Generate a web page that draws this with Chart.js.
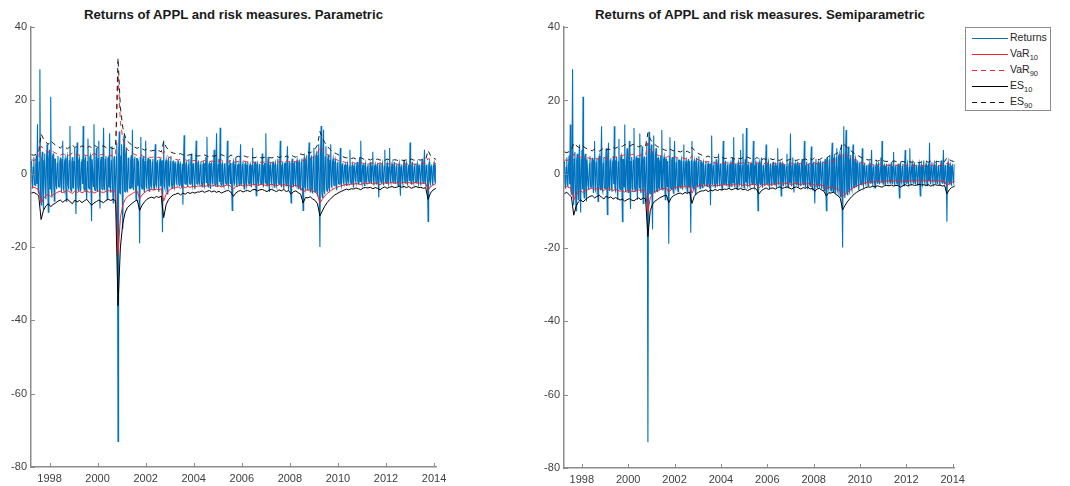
<!DOCTYPE html>
<html>
<head>
<meta charset="utf-8" />
<script src="https://cdn.jsdelivr.net/npm/chart.js@4.4.1/dist/chart.umd.min.js"></script>
<style>
  body { margin:0; background:#fff; width:1070px; height:486px; overflow:hidden; position:relative; font-family:"Liberation Sans", Arial, sans-serif; }
  canvas { position:absolute; top:0; }
  .title { position:absolute; top:7px; font-weight:bold; font-size:13.2px; color:#1a1a1a; text-align:center; white-space:nowrap; }
  #legend { position:absolute; left:965px; top:27px; width:84px; height:82px; border:1px solid #8c8c8c; background:#fff; }
  .row { position:absolute; left:6px; height:16px; font-size:10.5px; color:#262626; }
  .row svg { position:absolute; left:0; top:7px; }
  .row span { position:absolute; left:38px; top:1px; white-space:nowrap; }
  .row sub { font-size:7.5px; vertical-align:-3px; }
</style>
</head>
<body>
<div class="title" style="left:31px;width:405px">Returns of APPL and risk measures. Parametric</div>
<div class="title" style="left:564px;width:392px">Returns of APPL and risk measures. Semiparametric</div>
<canvas id="left" width="460" height="486" style="left:0"></canvas>
<canvas id="right" width="440" height="486" style="left:530px"></canvas>
<div id="legend"></div>

<script>
// AAPL returns (%), one row per year starting 1997.25, step 0.025 yr
const retStart = 1997.25, retStep = 0.025;
const returns = [
  3.5,-2.2,-4.0,1.8,4.5,-3.0,-3.2,2.5,5.0,-2.8,13.5,-4.5,-5.5,3.2,28.5,-6.0,-8.5,4.0,6.0,-4.5,-10.0,3.5,5.5,-3.8,-7.0,4.2,8.0,-3.5,-10.5,4.0,6.5,-4.2,21.0,-3.8,-6.5,4.5,5.5,-3.2,-7.5,4.0,
  4.0,-3.2,-4.2,2.8,4.8,-3.5,-3.6,3.0,4.4,-2.5,-5.2,3.8,9.0,-4.0,-4.6,3.2,4.1,-3.6,-7.5,4.2,4.9,-3.0,-4.3,3.5,13.0,-4.2,-4.8,2.9,4.5,-3.8,-3.9,3.3,7.0,-3.1,-11.0,4.5,8.5,-3.4,-4.6,3.6,
  4.3,-3.4,-4.8,3.1,3.9,-2.8,13.0,-3.9,-4.5,3.6,4.7,-4.1,-7.0,3.3,9.5,-3.7,-4.2,4.4,5.0,-3.2,-13.0,3.9,3.9,-3.5,13.5,-4.3,-4.6,3.0,7.0,-3.8,-5.0,4.1,9.0,-3.6,-9.5,3.4,4.6,-4.0,-4.4,3.7,
  12.5,-3.6,-4.6,3.9,4.8,-3.3,-7.0,4.2,4.4,-3.8,11.0,-4.0,-5.2,3.5,7.5,-4.4,-8.0,3.8,4.8,-3.1,-7.5,4.5,8.5,-4.6,-73.0,5.0,11.5,-5.2,-5.4,4.8,8.0,-5.5,-15.0,6.0,10.5,-4.8,-5.0,5.2,7.0,-4.5,
  -4.8,4.2,4.4,-3.8,-4.1,3.5,5.0,-4.0,12.0,-3.6,-4.5,3.9,4.7,-3.2,-7.0,4.1,4.1,-3.4,3.5,-3.0,-19.0,4.4,10.0,-3.5,-4.2,3.7,4.6,-3.9,-5.2,3.3,9.0,-3.6,-4.0,3.1,4.3,-3.4,-4.8,3.8,3.8,-3.2,
  -3.8,3.2,4.0,-3.0,-4.3,3.4,8.0,-2.9,-3.4,3.1,3.7,-3.3,-5.0,2.8,4.1,-3.5,3.6,-2.7,-16.0,3.6,9.0,-3.2,-4.0,3.0,3.7,-3.4,-5.5,2.9,4.4,-3.1,-3.4,3.3,4.8,-2.8,-4.0,3.2,3.4,-3.0,-3.7,2.7,
  3.3,-2.6,-3.0,2.4,3.6,-2.8,-3.3,2.5,2.9,-2.3,-3.7,2.7,-8.5,2.9,10.5,-2.6,-2.9,2.2,3.3,-2.7,-3.6,2.4,4.0,-2.5,-2.9,2.8,5.5,-2.4,-3.3,2.6,2.9,-2.9,-4.2,2.3,9.0,-2.7,-2.9,2.5,3.6,-2.4,
  -2.9,2.4,3.3,-2.6,-3.6,2.3,2.9,-2.5,-3.3,2.7,4.5,-2.4,10.0,-2.8,-3.6,2.5,2.9,-2.2,-4.2,2.6,3.3,-2.5,-2.9,2.3,6.5,-2.7,-3.3,2.4,11.0,-2.6,-3.7,2.5,4.1,-2.3,12.5,-2.8,-3.3,2.4,2.9,-2.6,
  -3.3,2.5,2.9,-2.3,-2.9,2.6,9.0,-2.4,-3.3,2.2,3.7,-2.7,2.9,-2.5,-10.0,2.6,3.3,-2.3,-2.9,2.4,4.5,-2.6,-3.7,2.2,2.6,-2.5,-3.3,2.3,8.0,-2.7,-2.9,2.4,3.3,-2.2,-4.2,2.5,2.9,-2.4,-3.3,2.3,
  3.3,-2.3,-2.9,2.1,2.6,-2.4,-3.7,2.2,7.0,-2.5,-2.9,2.3,3.3,-2.1,-6.0,2.4,2.9,-2.2,-3.3,2.5,2.6,-2.3,-2.9,2.1,5.5,-2.4,-3.7,2.2,2.9,-2.5,11.0,-2.3,-3.3,2.4,4.5,-2.2,-5.0,2.3,2.9,-2.1,
  -2.9,2.3,3.3,-2.4,-3.7,2.2,2.9,-2.5,-3.3,2.4,4.1,-2.3,-2.9,2.5,9.0,-2.6,-3.7,2.3,3.3,-2.5,-4.2,2.6,2.9,-2.4,-3.3,2.7,7.5,-2.5,-4.5,2.8,3.3,-2.6,-8.0,2.9,4.1,-2.7,-3.7,2.8,3.3,-3.0,
  -3.4,2.9,3.7,-3.1,-4.1,3.0,3.4,-3.3,-4.5,3.2,4.1,-3.4,-10.0,3.6,4.5,-3.5,-4.2,3.8,5.0,-3.7,-4.6,4.0,8.5,-3.9,-5.0,4.2,4.6,-4.1,-5.4,4.4,7.0,-4.3,-5.0,4.6,5.4,-4.5,-6.2,4.8,8.0,-5.0,
  -20.0,5.2,13.0,-5.0,-6.5,4.8,12.0,-4.6,-5.6,4.5,7.5,-4.2,-4.8,4.0,5.2,-3.8,-4.4,3.6,8.0,-3.4,-3.7,3.3,4.1,-3.1,-3.3,3.0,3.7,-2.9,-4.5,2.8,3.3,-2.7,-2.9,2.6,7.0,-2.5,-3.3,2.4,2.9,-2.3,
  -2.8,2.1,2.5,-2.0,-3.2,2.2,2.8,-1.9,-2.5,2.0,6.5,-2.1,-2.8,1.9,2.5,-2.2,-3.8,2.0,2.8,-1.8,-2.5,2.1,3.2,-2.0,-2.8,1.9,4.5,-2.1,9.0,-2.0,-2.8,2.2,2.5,-1.9,-3.2,2.0,2.8,-2.1,-2.5,1.8,
  2.8,-1.9,-2.5,2.0,3.2,-1.8,-2.8,2.1,6.0,-2.0,-3.2,1.9,2.5,-2.1,-2.8,1.8,2.8,-2.0,-6.5,2.2,3.2,-1.9,-2.5,2.0,2.8,-1.8,-3.2,2.1,6.5,-2.0,-2.5,1.9,2.8,-2.1,-2.8,1.8,7.0,-2.0,-2.5,1.9,
  2.8,-1.9,-2.5,2.0,3.2,-1.8,-2.8,2.1,2.5,-2.0,-3.2,1.9,2.8,-2.1,-6.0,1.8,2.5,-2.0,-2.8,2.2,3.7,-1.9,-2.5,2.0,2.8,-1.8,-3.2,2.1,2.5,-2.0,8.5,-1.9,-2.8,2.1,3.2,-1.8,-2.5,2.0,2.8,-1.9,
  -2.5,2.0,2.8,-1.9,-2.8,2.1,2.5,-1.8,-3.2,2.0,3.7,-2.1,-2.5,1.9,6.5,-2.0,-2.8,2.2,2.5,-1.9,-13.0,2.3,3.2,-2.0,-2.8,1.9,2.5,-2.1,-3.2,2.0,2.8,-1.8,-2.5,2.1,2.8,-1.9,-2.5,2.0,2.5,-1.8
];

// risk measures, one row per year starting 1997.25, step 0.1 yr
const riskStart = 1997.25, riskStep = 0.1;

// parametric
const pV10 = [
  -3.9,-3.7,-4.0,-4.3,-8.0,-6.8,-6.0,-5.6,-6.2,-5.7,
  -5.4,-5.0,-4.8,-5.2,-4.9,-4.6,-5.0,-5.4,-4.8,-5.1,
  -4.8,-5.2,-4.9,-4.7,-5.1,-4.8,-5.3,-5.0,-4.7,-5.0,
  -5.2,-4.8,-4.6,-4.8,-4.6,-4.8,-22.0,-12.0,-8.5,-7.0,
  -6.2,-5.8,-5.4,-5.0,-4.8,-6.8,-5.8,-5.2,-4.7,-4.4,
  -4.3,-4.5,-4.2,-4.4,-4.1,-7.5,-5.6,-4.7,-4.2,-3.9,
  -3.8,-3.6,-4.0,-3.6,-3.8,-3.5,-3.7,-3.5,-3.6,-3.4,
  -3.4,-3.2,-3.5,-3.3,-3.1,-3.4,-3.2,-3.5,-3.3,-3.6,
  -3.4,-3.2,-3.1,-3.5,-4.2,-3.6,-3.3,-3.1,-3.4,-3.2,
  -3.1,-3.3,-3.0,-2.9,-3.2,-3.0,-2.9,-3.1,-3.3,-3.0,
  -2.9,-3.1,-3.3,-3.0,-3.2,-2.9,-3.3,-3.1,-3.8,-3.3,
  -3.2,-3.5,-3.8,-5.2,-4.4,-4.5,-4.3,-4.7,-5.0,-5.6,
  -8.0,-7.0,-6.1,-5.4,-4.9,-4.4,-4.0,-3.8,-3.5,-3.3,
  -3.1,-2.9,-3.0,-2.8,-2.9,-2.7,-2.8,-3.0,-2.7,-2.6,
  -2.7,-2.5,-2.8,-2.6,-2.7,-3.0,-2.7,-2.5,-2.7,-2.5,
  -2.4,-2.6,-2.5,-2.3,-2.5,-2.4,-2.6,-2.4,-2.7,-2.5,
  -2.4,-2.6,-2.5,-2.7,-2.6,-4.5,-3.6,-3.1,-2.8,-2.6
];
const pV90 = [
  3.8,3.6,3.9,4.2,7.5,6.8,6.2,5.8,6.6,6.0,
  5.6,5.3,5.0,5.4,5.1,4.8,5.2,5.6,5.0,5.3,
  5.0,5.4,5.1,4.9,5.3,5.0,5.5,5.2,4.9,5.2,
  5.4,5.0,4.8,5.0,4.8,5.0,27.0,14.0,9.5,7.5,
  6.5,6.0,5.6,5.2,5.0,5.3,4.9,4.6,4.8,4.5,
  4.4,4.6,4.3,4.5,4.2,6.2,5.2,4.6,4.2,4.0,
  3.9,3.7,3.9,3.6,3.8,3.5,3.7,3.5,3.6,3.4,
  3.5,3.3,3.6,3.4,3.2,3.5,3.3,3.6,3.4,3.7,
  3.5,3.3,3.2,3.6,3.3,3.1,3.4,3.2,3.5,3.3,
  3.2,3.4,3.1,3.0,3.3,3.1,3.0,3.2,3.4,3.1,
  3.0,3.2,3.4,3.1,3.3,3.0,3.4,3.2,3.6,3.3,
  3.2,3.5,3.8,3.6,3.9,4.2,4.0,4.5,4.8,5.5,
  7.5,6.8,6.0,5.3,4.8,4.4,4.0,3.8,3.5,3.4,
  3.2,3.0,3.1,2.9,3.0,2.8,2.9,3.1,2.8,2.7,
  2.8,2.6,2.9,2.7,2.8,2.6,2.7,2.5,2.8,2.6,
  2.5,2.7,2.6,2.4,2.6,2.5,2.7,2.5,2.8,2.6,
  2.5,2.7,2.6,2.8,2.7,4.2,3.5,3.0,2.8,2.6
];
const pE10 = [
  -5.3,-5.1,-5.5,-6.0,-12.5,-10.0,-8.8,-8.2,-9.0,-8.4,
  -8.0,-7.5,-7.2,-7.8,-7.3,-7.0,-7.6,-8.2,-7.2,-7.7,
  -7.3,-7.9,-7.4,-7.0,-7.8,-8.6,-8.0,-7.6,-7.2,-7.6,
  -7.9,-7.3,-7.0,-7.3,-7.0,-7.4,-36.0,-20.0,-13.5,-10.5,
  -9.2,-8.6,-8.0,-7.5,-7.2,-10.0,-8.6,-7.7,-7.0,-6.6,
  -6.4,-6.7,-6.2,-6.5,-6.1,-12.0,-8.5,-7.1,-6.3,-5.8,
  -5.6,-5.3,-5.8,-5.3,-5.6,-5.1,-5.4,-5.1,-5.3,-5.0,
  -5.0,-4.7,-5.1,-4.8,-4.6,-5.0,-4.7,-5.1,-4.8,-5.3,
  -5.0,-4.7,-4.6,-5.1,-6.2,-5.3,-4.8,-4.6,-5.0,-4.7,
  -4.6,-4.9,-4.4,-4.3,-4.7,-4.4,-4.3,-4.6,-4.9,-4.4,
  -4.3,-4.6,-4.9,-4.4,-4.7,-4.3,-4.9,-4.6,-5.6,-4.9,
  -4.7,-5.2,-5.6,-8.0,-6.5,-6.6,-6.3,-6.9,-7.3,-8.2,
  -11.5,-10.2,-8.9,-7.9,-7.1,-6.5,-5.9,-5.5,-5.1,-4.8,
  -4.5,-4.2,-4.4,-4.1,-4.2,-3.9,-4.1,-4.4,-3.9,-3.8,
  -3.9,-3.7,-4.1,-3.8,-4.0,-4.4,-3.9,-3.6,-4.0,-3.7,
  -3.5,-3.8,-3.7,-3.4,-3.7,-3.5,-3.8,-3.5,-4.0,-3.7,
  -3.5,-3.8,-3.7,-4.0,-3.8,-7.0,-5.3,-4.5,-4.1,-3.8
];
const pE90 = [
  5.2,5.0,5.3,5.8,10.8,9.5,8.6,8.0,9.0,8.3,
  7.8,7.4,7.0,7.6,7.2,6.8,7.3,7.9,7.1,7.5,
  7.1,7.6,7.2,6.9,7.5,7.1,7.8,7.4,7.0,7.4,
  7.6,7.1,6.8,7.1,6.8,7.1,31.5,18.0,12.5,10.0,
  8.8,8.2,7.7,7.2,6.9,7.3,6.8,6.4,6.7,6.3,
  6.2,6.4,6.0,6.3,5.9,8.8,7.3,6.5,5.9,5.6,
  5.5,5.2,5.5,5.1,5.3,5.0,5.2,4.9,5.1,4.8,
  4.9,4.7,5.1,4.8,4.5,4.9,4.7,5.1,4.8,5.2,
  4.9,4.7,4.5,5.1,4.7,4.4,4.8,4.5,4.9,4.7,
  4.5,4.8,4.4,4.3,4.7,4.4,4.3,4.5,4.8,4.4,
  4.3,4.5,4.8,4.4,4.7,4.3,4.8,4.5,5.1,4.7,
  4.5,4.9,5.4,5.1,5.5,5.9,5.6,6.3,6.8,7.8,
  11.5,9.8,8.5,7.5,6.8,6.2,5.7,5.4,5.0,4.8,
  4.5,4.3,4.4,4.1,4.3,4.0,4.1,4.4,4.0,3.9,
  4.0,3.7,4.1,3.8,4.0,3.7,3.8,3.6,4.0,3.7,
  3.6,3.8,3.7,3.4,3.7,3.6,3.8,3.6,4.0,3.7,
  3.6,3.8,3.7,4.0,3.8,6.3,5.0,4.3,4.0,3.7
];

// semiparametric
const sV10 = [
  -3.5,-3.4,-3.7,-4.0,-7.0,-5.8,-5.0,-4.6,-5.0,-4.6,
  -4.3,-4.0,-3.9,-4.3,-4.0,-3.8,-4.2,-4.5,-4.0,-4.3,
  -4.1,-4.5,-4.2,-4.4,-4.7,-4.5,-4.9,-4.6,-4.4,-4.7,
  -4.8,-4.5,-4.3,-4.6,-4.3,-4.5,-10.5,-6.5,-5.4,-4.9,
  -4.6,-4.3,-4.1,-3.9,-3.8,-5.0,-4.3,-3.9,-3.7,-3.5,
  -3.4,-3.6,-3.3,-3.5,-3.2,-5.2,-4.0,-3.5,-3.2,-3.0,
  -3.3,-3.1,-3.4,-3.1,-3.3,-3.0,-3.2,-3.0,-3.1,-2.9,
  -3.0,-2.8,-3.1,-2.9,-2.7,-3.0,-2.8,-3.1,-2.9,-3.2,
  -3.0,-2.8,-2.7,-3.1,-3.8,-3.2,-2.9,-2.7,-3.0,-2.8,
  -2.7,-2.9,-2.6,-2.5,-2.8,-2.6,-2.5,-2.7,-2.9,-2.6,
  -2.5,-2.7,-2.9,-2.6,-2.8,-2.5,-2.9,-2.7,-3.3,-2.9,
  -2.8,-3.1,-3.3,-4.2,-3.6,-3.7,-3.5,-3.9,-4.2,-4.7,
  -6.0,-5.5,-5.0,-4.5,-4.0,-3.6,-3.3,-3.0,-2.8,-2.6,
  -2.4,-2.2,-2.3,-2.1,-2.2,-2.0,-2.1,-2.3,-2.0,-1.9,
  -1.9,-1.8,-2.0,-1.8,-1.9,-2.2,-1.9,-1.7,-1.9,-1.8,
  -1.7,-1.9,-1.8,-1.6,-1.8,-1.7,-1.9,-1.7,-2.0,-1.8,
  -1.7,-1.9,-1.8,-2.0,-1.9,-3.2,-2.6,-2.3,-2.1,-1.9
];
const sV90 = [
  3.8,3.7,3.9,4.2,5.4,5.0,4.7,4.5,4.9,4.6,
  4.4,4.2,4.1,4.4,4.2,4.0,4.3,4.6,4.2,4.4,
  4.3,4.7,4.6,4.8,5.1,5.0,5.3,5.2,5.0,5.3,
  5.4,5.1,5.0,5.2,5.0,5.1,8.4,6.8,6.0,5.6,
  5.2,5.0,4.8,4.6,4.5,4.9,4.6,4.4,4.6,4.3,
  4.2,4.4,4.1,4.3,4.0,5.0,4.5,4.1,3.8,3.6,
  3.4,3.2,3.4,3.1,3.3,3.0,3.2,3.0,3.1,2.9,
  3.0,2.8,3.1,2.9,2.7,3.0,2.8,3.1,2.9,3.2,
  3.0,2.8,2.7,3.1,2.8,2.6,2.9,2.7,3.0,2.8,
  2.7,2.9,2.6,2.5,2.8,2.6,2.5,2.7,2.9,2.6,
  2.5,2.7,2.9,2.6,2.8,2.5,2.9,2.7,3.1,2.8,
  2.7,3.0,3.2,3.0,3.3,3.5,3.4,3.8,4.0,4.5,
  5.8,5.4,5.0,4.6,4.2,3.9,3.6,3.4,3.1,3.0,
  2.8,2.6,2.7,2.5,2.6,2.4,2.5,2.7,2.4,2.3,
  2.4,2.2,2.5,2.3,2.4,2.2,2.3,2.1,2.4,2.2,
  2.1,2.3,2.2,2.0,2.2,2.1,2.3,2.1,2.4,2.2,
  2.1,2.3,2.2,2.4,2.3,3.0,2.7,2.5,2.3,2.2
];
const sE10 = [
  -5.3,-5.0,-5.6,-6.2,-11.2,-8.8,-7.6,-7.0,-7.6,-7.0,
  -6.5,-6.1,-5.9,-6.5,-6.1,-5.8,-6.3,-6.8,-6.0,-6.5,
  -6.2,-6.8,-6.4,-6.7,-7.1,-6.8,-7.4,-7.0,-6.7,-7.1,
  -7.3,-6.8,-6.5,-7.0,-6.5,-6.8,-17.0,-10.0,-8.2,-7.4,
  -7.0,-6.5,-6.2,-5.9,-5.8,-7.8,-6.6,-5.9,-5.6,-5.3,
  -5.2,-5.5,-5.0,-5.3,-4.9,-8.0,-6.1,-5.3,-4.9,-4.6,
  -4.6,-4.3,-4.8,-4.4,-4.6,-4.2,-4.5,-4.2,-4.4,-4.1,
  -4.2,-3.9,-4.3,-4.1,-3.8,-4.2,-3.9,-4.3,-4.1,-4.5,
  -4.2,-3.9,-3.8,-4.3,-5.4,-4.5,-4.1,-3.8,-4.2,-3.9,
  -3.8,-4.1,-3.7,-3.5,-3.9,-3.7,-3.5,-3.8,-4.1,-3.7,
  -3.5,-3.8,-4.1,-3.7,-3.9,-3.5,-4.1,-3.8,-4.7,-4.1,
  -3.9,-4.4,-4.7,-6.0,-5.1,-5.2,-4.9,-5.5,-5.9,-6.6,
  -9.8,-8.6,-7.6,-6.8,-6.1,-5.5,-5.0,-4.6,-4.3,-4.0,
  -3.7,-3.5,-3.6,-3.3,-3.5,-3.2,-3.4,-3.6,-3.2,-3.1,
  -3.2,-3.0,-3.3,-3.1,-3.2,-3.6,-3.2,-2.9,-3.2,-3.0,
  -2.9,-3.1,-3.0,-2.8,-3.0,-2.9,-3.1,-2.9,-3.3,-3.0,
  -2.9,-3.1,-3.0,-3.3,-3.1,-5.4,-4.3,-3.7,-3.4,-3.1
];
const sE90 = [
  6.0,5.8,6.1,6.5,8.4,7.8,7.3,7.0,7.6,7.1,
  6.8,6.5,6.3,6.8,6.5,6.2,6.6,7.1,6.5,6.8,
  6.6,7.2,7.0,7.3,7.7,7.5,8.0,7.8,7.5,7.9,
  8.1,7.6,7.4,7.7,7.4,7.6,11.2,9.5,8.6,8.0,
  7.5,7.2,6.9,6.6,6.4,7.0,6.6,6.3,6.6,6.2,
  6.0,6.3,5.9,6.2,5.8,7.2,6.5,5.9,5.5,5.2,
  4.9,4.6,4.9,4.5,4.8,4.4,4.6,4.4,4.5,4.2,
  4.3,4.1,4.5,4.2,3.9,4.3,4.1,4.5,4.2,4.6,
  4.3,4.1,3.9,4.5,4.1,3.8,4.2,3.9,4.3,4.1,
  3.9,4.2,3.8,3.7,4.1,3.8,3.7,3.9,4.2,3.8,
  3.7,3.9,4.2,3.8,4.1,3.7,4.2,3.9,4.5,4.1,
  3.9,4.3,4.6,4.3,4.8,5.1,4.9,5.5,5.8,6.5,
  8.4,7.8,7.2,6.6,6.1,5.6,5.2,4.9,4.5,4.3,
  4.1,3.8,3.9,3.7,3.8,3.5,3.7,3.9,3.5,3.4,
  3.5,3.3,3.6,3.4,3.5,3.3,3.4,3.2,3.5,3.3,
  3.2,3.4,3.3,3.0,3.3,3.2,3.4,3.2,3.5,3.3,
  3.2,3.4,3.3,3.5,3.4,4.4,3.9,3.6,3.4,3.3
];

const xTicks = [1998,2000,2002,2004,2006,2008,2010,2012,2014];
const yTicks = [-80,-60,-40,-20,0,20,40];
const seriesNames = ['Returns','VaR','VaR','ES','ES'];
const seriesSubs  = ['','10','90','10','90'];

const retYears  = returns.map((_, i) => retStart + i * retStep);
const riskYears = pV10.map((_, i) => riskStart + i * riskStep);
const pts = (t, v) => v.map((y, i) => ({ x: t[i], y }));

const AXIS = '#8c8c8c';
const TXT = '#404040';
const styles = [
  { color:'#0072BD', dash:[],    width:1.1, order:10 },
  { color:'#f2232b', dash:[],    width:1,   order:4 },
  { color:'#f2232b', dash:[5,4], width:1,   order:3 },
  { color:'#000000', dash:[],    width:1,   order:2 },
  { color:'#1a1a1a', dash:[5,4], width:1,   order:1 }
];

// MATLAB style ticks pointing into the plot
const innerTicks = {
  id: 'innerTicks',
  afterDraw(chart) {
    const { ctx, chartArea: a, scales: { x, y } } = chart;
    ctx.save();
    ctx.strokeStyle = AXIS;
    ctx.lineWidth = 1;
    ctx.beginPath();
    x.ticks.forEach(t => {
      const p = Math.round(x.getPixelForValue(t.value)) + 0.5;
      ctx.moveTo(p, a.bottom); ctx.lineTo(p, a.bottom - 4);
    });
    y.ticks.forEach(t => {
      const p = Math.round(y.getPixelForValue(t.value)) + 0.5;
      ctx.moveTo(a.left, p); ctx.lineTo(a.left + 4, p);
    });
    ctx.stroke();
    ctx.restore();
  }
};

function makeChart(id, risk, yWidth, xHeight, padRight) {
  const series = [pts(retYears, returns)].concat(risk.map(r => pts(riskYears, r)));
  return new Chart(document.getElementById(id), {
    type: 'line',
    data: {
      datasets: series.map((d, i) => ({
        label: seriesNames[i] + seriesSubs[i],
        data: d,
        borderColor: styles[i].color,
        borderDash: styles[i].dash,
        borderWidth: styles[i].width,
        pointRadius: 0,
        tension: 0,
        fill: false,
        order: styles[i].order
      }))
    },
    options: {
      responsive: false,
      animation: false,
      events: [],
      layout: { padding: { left: 0, right: padRight, top: 27, bottom: 0 } },
      plugins: { legend: { display: false }, tooltip: { enabled: false }, title: { display: false } },
      scales: {
        x: {
          type: 'linear', min: 1997.23, max: 2014.08,
          grid: { display: false, drawTicks: false },
          border: { display: true, color: AXIS, width: 1.5 },
          ticks: { color: TXT, font: { family: 'Liberation Sans', size: 11 }, padding: 5, maxRotation: 0,
                   callback: v => String(v) },
          afterBuildTicks: s => { s.ticks = xTicks.map(v => ({ value: v })); },
          afterFit: s => { s.height = xHeight; }
        },
        y: {
          type: 'linear', min: -80, max: 40,
          grid: { display: false, drawTicks: false },
          border: { display: true, color: AXIS, width: 1.5 },
          ticks: { color: TXT, font: { family: 'Liberation Sans', size: 11 }, padding: 4,
                   callback: v => String(v) },
          afterBuildTicks: s => { s.ticks = yTicks.map(v => ({ value: v })); },
          afterFit: s => { s.width = yWidth; }
        }
      }
    },
    plugins: [innerTicks]
  });
}

makeChart('left',  [pV10, pV90, pE10, pE90], 31, 19, 24);
const rightChart = makeChart('right', [sV10, sV90, sE10, sE90], 34, 18, 14);

// legend built from the right chart's datasets
const leg = document.getElementById('legend');
rightChart.data.datasets.forEach((ds, k) => {
  const row = document.createElement('div');
  row.className = 'row';
  row.style.top = (2 + k * 16) + 'px';
  const dash = ds.borderDash.length ? ds.borderDash.join(',') : 'none';
  row.innerHTML =
    '<svg width="36" height="3"><line x1="0" y1="1.5" x2="36" y2="1.5" stroke="' + ds.borderColor +
    '" stroke-width="1" stroke-dasharray="' + dash + '"/></svg>' +
    '<span>' + seriesNames[k] + (seriesSubs[k] ? '<sub>' + seriesSubs[k] + '</sub>' : '') + '</span>';
  leg.appendChild(row);
});
</script>
</body>
</html>
